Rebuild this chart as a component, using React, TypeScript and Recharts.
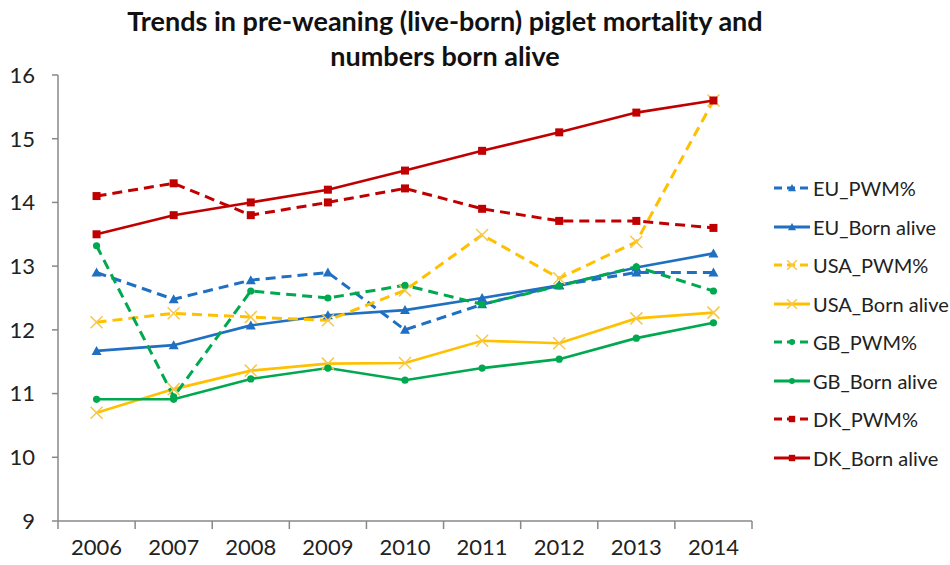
import React from 'react';
import { LineChart, Line, XAxis, YAxis } from 'recharts';

// Jahre und Werte der Serien
const years = ['2006', '2007', '2008', '2009', '2010', '2011', '2012', '2013', '2014'];
const euPwm = [12.9, 12.48, 12.78, 12.9, 12.0, 12.4, 12.7, 12.9, 12.9];
const euBorn = [11.67, 11.76, 12.07, 12.23, 12.31, 12.5, 12.7, 12.98, 13.2];
const usaPwm = [12.12, 12.26, 12.2, 12.15, 12.62, 13.49, 12.81, 13.38, 15.6];
const usaBorn = [10.7, 11.07, 11.36, 11.47, 11.48, 11.83, 11.79, 12.18, 12.27];
const gbPwm = [13.32, 10.95, 12.61, 12.5, 12.7, 12.4, 12.69, 12.99, 12.61];
const gbBorn = [10.91, 10.91, 11.23, 11.4, 11.21, 11.4, 11.54, 11.87, 12.11];
const dkPwm = [14.1, 14.3, 13.8, 14.0, 14.22, 13.9, 13.71, 13.71, 13.6];
const dkBorn = [13.5, 13.8, 14.0, 14.2, 14.5, 14.81, 15.1, 15.41, 15.6];
const yTicks = [9, 10, 11, 12, 13, 14, 15, 16];

const BLUE = '#1f6fc2';
const YELLOW = '#ffc000';
const GREEN = '#00a84f';
const RED = '#c00000';

type Shape = 'triangle' | 'cross' | 'circle' | 'square';

interface SeriesDef {
  key: string;
  color: string;
  dashed: boolean;
  shape: Shape;
  values: number[];
}

const series: SeriesDef[] = [
  { key: 'EU_PWM%', color: BLUE, dashed: true, shape: 'triangle', values: euPwm },
  { key: 'EU_Born alive', color: BLUE, dashed: false, shape: 'triangle', values: euBorn },
  { key: 'USA_PWM%', color: YELLOW, dashed: true, shape: 'cross', values: usaPwm },
  { key: 'USA_Born alive', color: YELLOW, dashed: false, shape: 'cross', values: usaBorn },
  { key: 'GB_PWM%', color: GREEN, dashed: true, shape: 'circle', values: gbPwm },
  { key: 'GB_Born alive', color: GREEN, dashed: false, shape: 'circle', values: gbBorn },
  { key: 'DK_PWM%', color: RED, dashed: true, shape: 'square', values: dkPwm },
  { key: 'DK_Born alive', color: RED, dashed: false, shape: 'square', values: dkBorn },
];

// Tabelle für Recharts
const data = years.map((year, i) => {
  const row: Record<string, string | number> = { year };
  series.forEach(s => {
    row[s.key] = s.values[i];
  });
  return row;
});

const FONT = 'Lato, "Open Sans", sans-serif';
const BAND = 694 / 9;

// Marker je nach Form
const Marker = ({ cx, cy, shape, color, small }: { cx: number; cy: number; shape: Shape; color: string; small?: boolean }) => {
  const s = small ? 0.8 : 1;
  if (shape === 'triangle') {
    return <polygon points={`${cx},${cy - 5 * s} ${cx - 5 * s},${cy + 4 * s} ${cx + 5 * s},${cy + 4 * s}`} fill={color} />;
  }
  if (shape === 'cross') {
    const d = 6 * s;
    return (
      <g stroke="#f5c84a" strokeWidth={1.5}>
        <line x1={cx - d} y1={cy - d} x2={cx + d} y2={cy + d} />
        <line x1={cx - d} y1={cy + d} x2={cx + d} y2={cy - d} />
      </g>
    );
  }
  if (shape === 'circle') {
    return <circle cx={cx} cy={cy} r={3.6 * s} fill={color} />;
  }
  return <rect x={cx - 4 * s} y={cy - 4 * s} width={8 * s} height={8 * s} fill={color} />;
};

// X-Achse mit Strichen zwischen den Kategorien (wie in Excel)
const YearTick = (props: any) => {
  const { x, y, payload, index } = props;
  const axisY = 521;
  return (
    <g>
      <line x1={x - BAND / 2} y1={axisY} x2={x - BAND / 2} y2={axisY + 8} stroke="#888" strokeWidth={1.5} />
      {index === years.length - 1 && (
        <line x1={x + BAND / 2} y1={axisY} x2={x + BAND / 2} y2={axisY + 8} stroke="#888" strokeWidth={1.5} />
      )}
      <text x={x} y={y} dy={20} textAnchor="middle" dominantBaseline="middle" fontSize={22} fill="#222" fontFamily={FONT}>
        {payload.value}
      </text>
    </g>
  );
};

// Legende rechts neben dem Diagramm
const LegendBox = () => (
  <div style={{ position: 'absolute', left: 773, top: 169, fontFamily: FONT, fontSize: 20, color: '#222' }}>
    {series.map(s => (
      <div key={s.key} style={{ display: 'flex', alignItems: 'center', height: 38.5, whiteSpace: 'nowrap' }}>
        <svg width={38} height={16} style={{ marginRight: 2 }}>
          <line
            x1={1}
            y1={8}
            x2={37}
            y2={8}
            stroke={s.color}
            strokeWidth={3}
            strokeDasharray={s.dashed ? '8 5' : undefined}
          />
          <Marker cx={19} cy={8} shape={s.shape} color={s.color} small />
        </svg>
        <span>{s.key}</span>
      </div>
    ))}
  </div>
);

const App: React.FC = () => {
  return (
    <div style={{ position: 'absolute', left: 0, top: 0, width: 950, height: 565, background: '#fff' }}>
      <div
        style={{
          position: 'absolute',
          left: 0,
          top: 3,
          width: 890,
          textAlign: 'center',
          fontFamily: FONT,
          fontWeight: 'bold',
          fontSize: 27,
          lineHeight: '35px',
          color: '#111',
        }}
      >
        Trends in pre-weaning (live-born) piglet mortality and
        <br />
        numbers born alive
      </div>
      <LineChart width={950} height={565} data={data} margin={{ top: 75, right: 198, bottom: 0, left: 0 }}>
        <XAxis
          dataKey="year"
          height={44}
          stroke="#888"
          strokeWidth={1.5}
          tickLine={false}
          tick={<YearTick />}
          interval={0}
          padding={{ left: BAND / 2, right: BAND / 2 }}
        />
        <YAxis
          domain={[9, 16]}
          ticks={yTicks}
          width={58}
          stroke="#888"
          strokeWidth={1.5}
          tickSize={6}
          tickMargin={17}
          tick={{ fontSize: 22, fill: '#222', fontFamily: FONT }}
          allowDataOverflow
        />
        {series.map(s => (
          <Line
            key={s.key}
            dataKey={s.key}
            type="linear"
            stroke={s.color}
            strokeWidth={s.dashed ? 3 : 2.6}
            strokeDasharray={s.dashed ? '10 6' : undefined}
            isAnimationActive={false}
            dot={(p: any) => <Marker key={`${s.key}-${p.index}`} cx={p.cx} cy={p.cy} shape={s.shape} color={s.color} />}
            activeDot={false}
          />
        ))}
      </LineChart>
      <LegendBox />
    </div>
  );
};

export default App;
